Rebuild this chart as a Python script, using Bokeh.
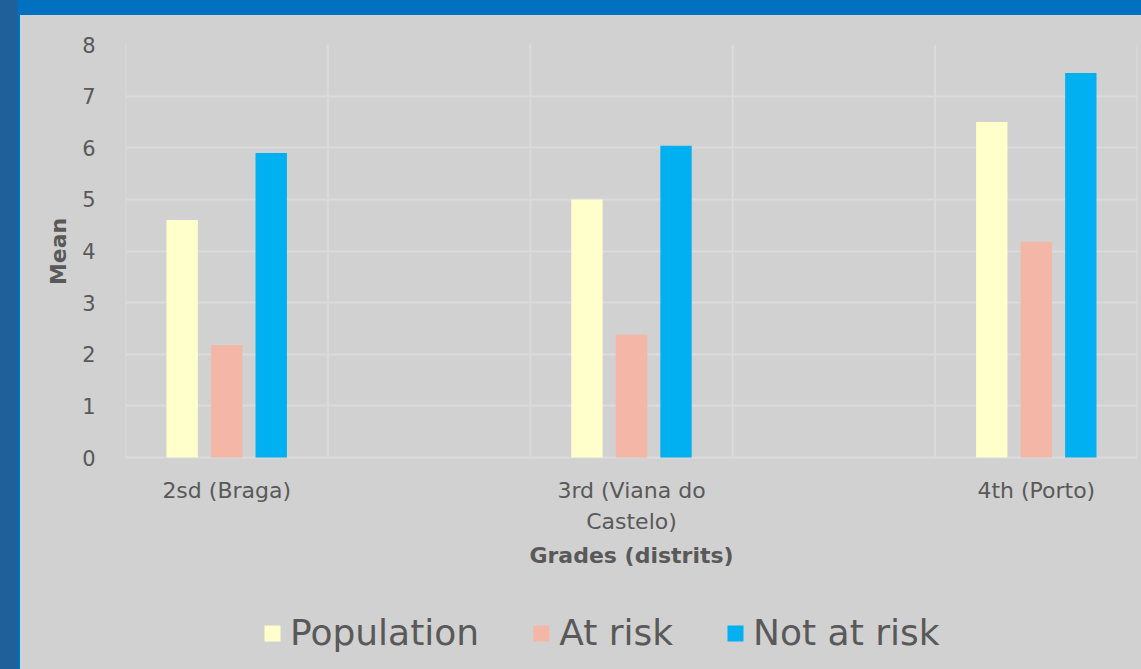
from bokeh.plotting import figure
from bokeh.models import FactorRange, ColumnDataSource, Legend, LegendItem
from bokeh.transform import dodge
from bokeh.layouts import column
from bokeh.embed import file_html
from bokeh.resources import INLINE

# ---- data ----
factors = ["2sd (Braga)", " ", "3rd (Viana do\nCastelo)", "  ", "4th (Porto)"]
groups = ["2sd (Braga)", "3rd (Viana do\nCastelo)", "4th (Porto)"]
series_names = ["Population", "At risk", "Not at risk"]
population = [4.6, 5.0, 6.5]
at_risk = [2.18, 2.38, 4.18]
not_at_risk = [5.9, 6.04, 7.45]
y_ticks = [0, 1, 2, 3, 4, 5, 6, 7, 8]
x_title = "Grades (distrits)"
y_title = "Mean"

colors = ["#FFFFCC", "#F4B6A6", "#00B0F0"]
TXT = "#595959"
PANEL = "#D1D1D1"
GRID = "#DBDBDB"
FONT = "DejaVu Sans"

# plot area geometry: value area 413px tall, extra 200px below for labels + legend
VALUE_H, EXTRA_H = 413, 200
y_end = y_ticks[-1]
y_start = -y_end * EXTRA_H / VALUE_H

src = ColumnDataSource(dict(g=groups, pop=population, risk=at_risk, nrisk=not_at_risk))

p = figure(x_range=FactorRange(*factors), y_range=(y_start, y_end),
           frame_width=1012, frame_height=VALUE_H + EXTRA_H, margin=(15, 0, 0, 20),
           output_backend="svg", toolbar_location=None,
           min_border_left=105, min_border_right=4, min_border_top=29,
           min_border_bottom=12, styles={"background-color": PANEL})
p.background_fill_color = PANEL
p.border_fill_color = PANEL
p.outline_line_color = None

# vertical category gridlines at category boundaries (value area only)
p.xgrid.visible = False
bounds = list(range(len(factors) + 1))
p.segment(x0=bounds, x1=bounds, y0=[y_ticks[0]] * len(bounds), y1=[y_ticks[-1]] * len(bounds),
          line_color=GRID, line_width=2)
p.ygrid.ticker = y_ticks
p.ygrid.grid_line_color = GRID
p.ygrid.grid_line_width = 2

offs = [-0.22, 0.0, 0.22]
renders = []
for col, name, c, o in zip(["pop", "risk", "nrisk"], series_names, colors, offs):
    r = p.vbar(x=dodge("g", o, range=p.x_range), top=col, width=0.155, bottom=0,
               source=src, fill_color=c, line_color=None)
    renders.append((name, r))

# category labels and x title under the value area
p.text(x=groups, y=[y_ticks[0]] * len(groups), text=groups, y_offset=20,
       text_align="center", text_baseline="top", text_font_size="22px",
       text_color=TXT, text_font={"value": FONT}, text_line_height=1.25)
p.text(x=[groups[1]], y=[y_ticks[0]], text=[x_title], y_offset=85,
       text_align="center", text_baseline="top", text_font_size="22px",
       text_font_style="bold", text_color=TXT, text_font={"value": FONT})
p.xaxis.visible = False

# y axis
p.yaxis.ticker = y_ticks
p.yaxis.axis_line_color = None
p.yaxis.major_tick_line_color = None
p.yaxis.minor_tick_line_color = None
p.yaxis.major_label_standoff = 24
p.yaxis.major_label_text_font = FONT
p.yaxis.major_label_text_font_size = "21px"
p.yaxis.major_label_text_color = TXT
p.yaxis.axis_label = "\u00a0" * 26 + y_title
p.yaxis.axis_label_text_font = FONT
p.yaxis.axis_label_text_font_size = "22px"
p.yaxis.axis_label_text_font_style = "bold"
p.yaxis.axis_label_text_color = TXT
p.yaxis.axis_label_standoff = 8

legend = Legend(items=[LegendItem(label=n, renderers=[r]) for n, r in renders],
                orientation="horizontal", location=(137, 4),
                label_text_font=FONT, label_text_font_size="36px",
                label_text_color=TXT, glyph_width=20, glyph_height=20,
                label_standoff=8, spacing=52, padding=0, margin=0,
                background_fill_alpha=0, border_line_color=None)
p.add_layout(legend, "center")

page = column(p, styles={"background": "linear-gradient(to right, #1f5f9a 0px, #1f5f9a 17px, #0070c0 18px)"})
open("out.html", "w").write(file_html(page, INLINE))
